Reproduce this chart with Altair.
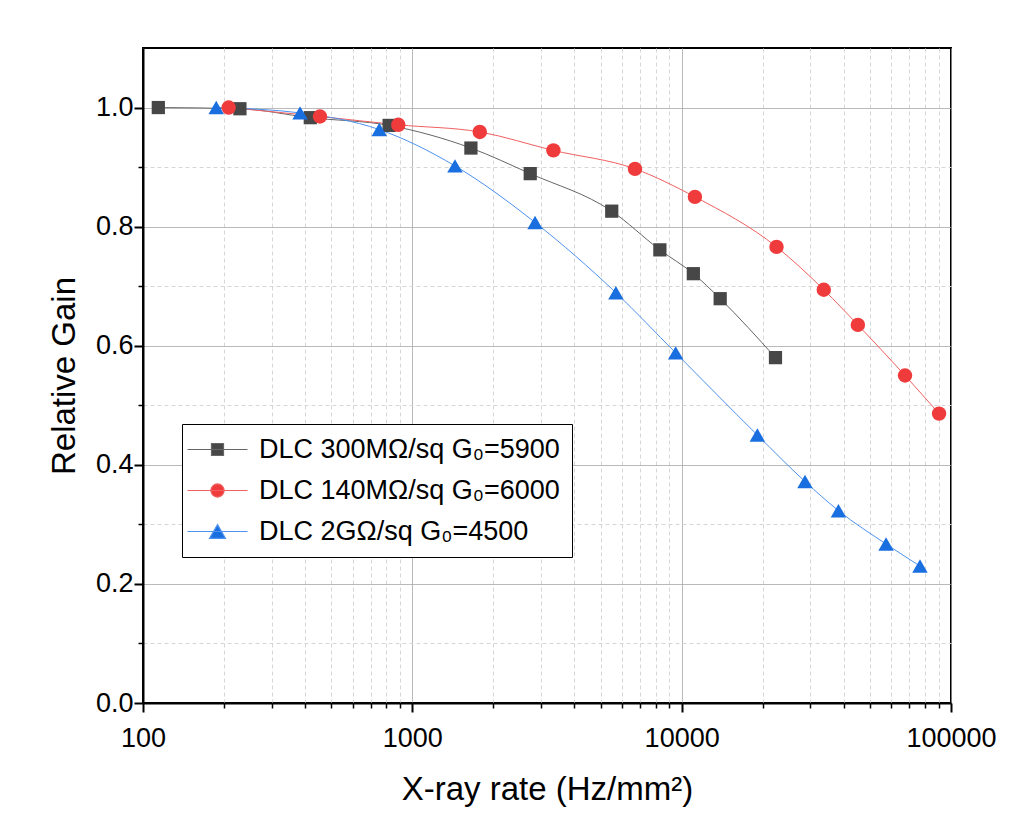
import altair as alt
import pandas as pd

series_names = ["DLC 300MΩ/sq G₀=5900", "DLC 140MΩ/sq G₀=6000", "DLC 2GΩ/sq G₀=4500"]

rate_300 = [114, 229, 418, 820, 1650, 2740, 5500, 8300, 11050, 13900, 22300]
gain_300 = [1.0, 0.998, 0.983, 0.970, 0.932, 0.889, 0.826, 0.761, 0.721, 0.679, 0.580]

rate_140 = [208, 454, 887, 1780, 3340, 6710, 11200, 22500, 33700, 45100, 67500, 90300]
gain_140 = [1.0, 0.985, 0.971, 0.959, 0.928, 0.897, 0.850, 0.766, 0.694, 0.635, 0.550, 0.486]

rate_2g = [187, 383, 754, 1440, 2855, 5700, 9500, 19100, 28700, 38200, 57400, 76700]
gain_2g = [1.0, 0.991, 0.963, 0.902, 0.807, 0.689, 0.588, 0.450, 0.372, 0.323, 0.267, 0.230]

marker_colors = ["#474747", "#ef3b3b", "#1a6fe0"]
line_colors = ["#666666", "#f06060", "#4d92ee"]
marker_shapes = ["square", "circle", "triangle-up"]
marker_sizes = [175, 240, 360]
legend_paths = [
    "M-5,0H5M-1,-1H1V1H-1Z",
    "M-5,0H5M1.1,0A1.1,1.1,0,1,1,-1.1,0A1.1,1.1,0,1,1,1.1,0Z",
    "M-5,0H5M0,-1.15L1.33,1.15H-1.33Z",
]

x_major = [100, 1000, 10000, 100000]
x_minor = [200, 300, 400, 500, 600, 700, 800, 900,
           2000, 3000, 4000, 5000, 6000, 7000, 8000, 9000,
           20000, 30000, 40000, 50000, 60000, 70000, 80000, 90000]
y_major = [0.0, 0.2, 0.4, 0.6, 0.8, 1.0]
y_minor = [0.1, 0.3, 0.5, 0.7, 0.9]

rows = []
for name, xs, ys in zip(series_names, [rate_300, rate_140, rate_2g], [gain_300, gain_140, gain_2g]):
    for i, (xv, yv) in enumerate(zip(xs, ys)):
        rows.append({"series": name, "rate": xv, "gain": yv, "idx": i})
df = pd.DataFrame(rows)

x_test = "indexof([100,1000,10000,100000], datum.value) >= 0"
y_test = "indexof([0,0.2,0.4,0.6,0.8,1], datum.value) >= 0"
FONT = "Liberation Sans"

x_axis = alt.Axis(
    values=x_major + x_minor, format="d",
    labelExpr=f"({x_test}) ? datum.label : ''",
    labelOverlap=False, labelFlush=False,
    grid=True,
    gridColor={"condition": {"test": x_test, "value": "#a3a3a3"}, "value": "#d6d6d6"},
    gridDash={"condition": {"test": x_test, "value": [1, 0]}, "value": [4, 3]},
    gridWidth=1,
    tickColor="black",
    tickSize={"condition": {"test": x_test, "value": 9}, "value": 5},
    tickWidth={"condition": {"test": x_test, "value": 2}, "value": 1.5},
    domainColor="black", domainWidth=2,
    labelFont=FONT, labelFontSize=27, labelColor="black", labelPadding=13,
    title="X-ray rate (Hz/mm²)", titleFont=FONT, titleFontSize=33,
    titleFontWeight="normal", titleColor="black", titlePadding=22,
)
y_axis = alt.Axis(
    values=y_major + y_minor, format=".1f",
    labelExpr=f"({y_test}) ? datum.label : ''",
    labelOverlap=False, labelFlush=False,
    grid=True,
    gridColor={"condition": {"test": y_test, "value": "#a3a3a3"}, "value": "#d6d6d6"},
    gridDash={"condition": {"test": y_test, "value": [1, 0]}, "value": [4, 3]},
    gridWidth=1,
    tickColor="black",
    tickSize={"condition": {"test": y_test, "value": 9}, "value": 5},
    tickWidth={"condition": {"test": y_test, "value": 2}, "value": 1.5},
    domainColor="black", domainWidth=2,
    labelFont=FONT, labelFontSize=27, labelColor="black", labelPadding=1,
    title="Relative Gain", titleFont=FONT, titleFontSize=33,
    titleFontWeight="normal", titleColor="black", titlePadding=14,
)

x_enc = alt.X("rate:Q", scale=alt.Scale(type="log", domain=[100, 100000], nice=False), axis=x_axis)
y_enc = alt.Y("gain:Q", scale=alt.Scale(domain=[0, 1.1], nice=False, zero=False), axis=y_axis)

lines = alt.Chart(df).mark_line(strokeWidth=1, interpolate="monotone").encode(
    x=x_enc, y=y_enc,
    color=alt.Color("series:N", scale=alt.Scale(domain=series_names, range=line_colors), legend=None),
    detail="series:N",
    order="idx:Q",
)

points = alt.Chart(df).mark_point(filled=True, opacity=1, strokeWidth=0).encode(
    x=x_enc, y=y_enc,
    color=alt.Color("series:N", scale=alt.Scale(domain=series_names, range=marker_colors), legend=None),
    shape=alt.Shape("series:N", scale=alt.Scale(domain=series_names, range=marker_shapes), legend=None),
    size=alt.Size("series:N", scale=alt.Scale(domain=series_names, range=marker_sizes), legend=None),
    order=alt.Order("series_rank:Q"),
).transform_calculate(
    series_rank=f"indexof({series_names!r}, datum.series)".replace("'", '"')
)

leg = alt.Legend(
    title=None, orient="none", legendX=39, legendY=376,
    fillColor="white", strokeColor="black", padding=12,
    labelFont=FONT, labelFontSize=27, labelColor="black", labelLimit=0,
    symbolSize=144, symbolStrokeWidth=1.2, symbolOffset=10, labelOffset=28,
    rowPadding=13, symbolOpacity=1,
)

legend_layer = alt.Chart(df).mark_point(filled=True, clip=True, size=144, strokeWidth=1.2, opacity=1).encode(
    x=x_enc,
    y=alt.value(-500),
    fill=alt.Fill("series:N", scale=alt.Scale(domain=series_names, range=marker_colors), legend=leg),
    stroke=alt.Stroke("series:N", scale=alt.Scale(domain=series_names, range=line_colors), legend=leg),
    shape=alt.Shape("series:N", scale=alt.Scale(domain=series_names, range=legend_paths), legend=leg),
)

chart = alt.layer(lines, points, legend_layer).resolve_scale(
    color="independent", fill="independent", stroke="independent",
    shape="independent", size="independent",
).properties(
    width=808, height=655,
    autosize=alt.AutoSizeParams(type="none"),
    padding={"left": 143, "top": 48, "right": 80, "bottom": 124},
    background="white",
).configure_view(stroke="black", strokeWidth=2)

chart.save("out.html", embed_options={"renderer": "svg", "actions": False})
